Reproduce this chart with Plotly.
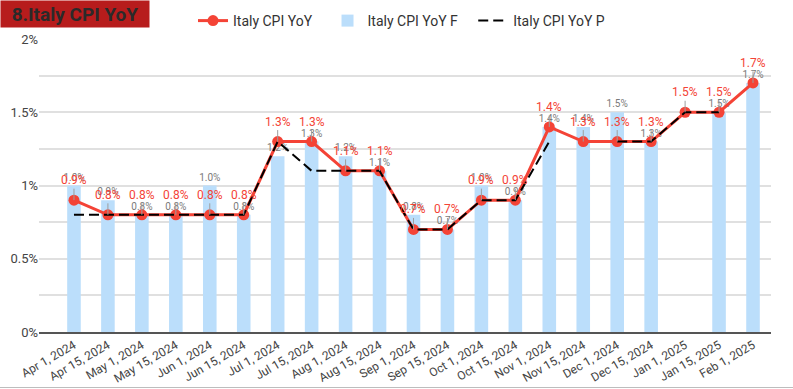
import plotly.graph_objects as go

dates = ["Apr 1, 2024", "Apr 15, 2024", "May 1, 2024", "May 15, 2024", "Jun 1, 2024",
         "Jun 15, 2024", "Jul 1, 2024", "Jul 15, 2024", "Aug 1, 2024", "Aug 15, 2024",
         "Sep 1, 2024", "Sep 15, 2024", "Oct 1, 2024", "Oct 15, 2024", "Nov 1, 2024",
         "Nov 15, 2024", "Dec 1, 2024", "Dec 15, 2024", "Jan 1, 2025", "Jan 15, 2025",
         "Feb 1, 2025"]
cpi_yoy = [0.9, 0.8, 0.8, 0.8, 0.8, 0.8, 1.3, 1.3, 1.1, 1.1, 0.7, 0.7, 0.9, 0.9,
           1.4, 1.3, 1.3, 1.3, 1.5, 1.5, 1.7]
cpi_yoy_f = [1.0, 0.9, 0.8, 0.8, 1.0, 0.8, 1.2, 1.3, 1.2, 1.1, 0.8, 0.7, 1.0, 0.9,
             1.4, 1.4, 1.5, 1.3, None, 1.5, 1.7]
cpi_yoy_p = [0.8, 0.8, 0.8, 0.8, 0.8, 0.8, 1.3, 1.1, 1.1, 1.1, 0.7, 0.7, 0.9, 0.9,
             1.3, None, 1.3, 1.3, 1.5, 1.5, None]
y_ticks = [0, 0.5, 1, 1.5, 2]
y_tick_text = ["0%", "0.5%", "1%", "1.5%", "2%"]

RED = "#f44336"
BLUE = "#bbdefb"
FONT = "Roboto"
PAD = "\u00a0" * 3

fig = go.Figure()

fig.add_trace(go.Scatter(
    x=dates, y=cpi_yoy, name="Italy CPI YoY" + PAD, mode="lines+markers",
    line=dict(color=RED, width=3), marker=dict(color=RED, size=11),
    legendrank=1, cliponaxis=False,
))
fig.add_trace(go.Bar(
    x=dates, y=cpi_yoy_f, name="Italy CPI YoY F" + PAD, marker=dict(color=BLUE, line=dict(width=0)),
    texttemplate="%{y:.1f}%", textposition="outside", constraintext="none",
    textfont=dict(color="#7a7a7a", size=10, family=FONT), cliponaxis=False,
    legendrank=2,
))
fig.add_trace(go.Scatter(
    x=dates, y=cpi_yoy_p, name="Italy CPI YoY P", mode="lines",
    line=dict(color="#000000", width=2, dash="10px,5px"),
    connectgaps=False, legendrank=3,
))

annotations = []
for d, v in zip(dates, cpi_yoy):
    annotations.append(dict(
        x=d, y=v, xref="x", yref="y", text=f"{v:.1f}%", showarrow=True,
        arrowhead=0, arrowwidth=1, arrowcolor="#9e9e9e", ax=0, ay=-20,
        font=dict(color=RED, size=12, family=FONT), standoff=0,
    ))

plot_w = 793 - 39 - 22
plot_h = 389 - 39 - 57
annotations.append(dict(
    xref="paper", yref="paper", x=-39 / plot_w, y=1 + 39 / plot_h,
    xanchor="left", yanchor="top", showarrow=False,
    text="<b>8.Italy CPI YoY</b>", font=dict(color="#2a2a2a", size=19, family=FONT),
    bgcolor="#b71c1c", width=148, height=26, borderpad=0, align="center",
))

fig.update_layout(
    width=793, height=389,
    margin=dict(l=39, r=22, t=39, b=57, autoexpand=False),
    paper_bgcolor="white", plot_bgcolor="white",
    font=dict(family=FONT, color="#444444", size=12),
    bargap=0.6,
    showlegend=True,
    legend=dict(orientation="h", x=(193 - 39) / plot_w, xanchor="left",
                yref="container", y=1 - 21 / 389, yanchor="middle",
                font=dict(size=14, color="#333333", family=FONT),
                bgcolor="rgba(0,0,0,0)"),
    annotations=annotations,
    shapes=[dict(type="line", xref="paper", yref="paper",
                 x0=-39 / plot_w, x1=(793 - 39) / plot_w,
                 y0=-(387.5 - 332) / plot_h, y1=-(387.5 - 332) / plot_h,
                 line=dict(color="#bdbdbd", width=1))],
)
fig.update_xaxes(
    type="category", range=[-1.03, 20.53], tickangle=-30, automargin=False,
    showgrid=False, showline=True, linecolor="#555555", linewidth=1.5,
    ticks="", tickfont=dict(size=12, color="#444444", family=FONT),
)
fig.update_yaxes(
    range=[0, 2], tickvals=y_ticks, ticktext=y_tick_text, automargin=False,
    showgrid=True, gridcolor="#e0e0e0", gridwidth=1.5, zeroline=False,
    minor=dict(tickvals=[0.25, 0.75, 1.25, 1.75], showgrid=True, gridcolor="#e0e0e0", gridwidth=1.5),
    tickfont=dict(size=13, color="#444444", family=FONT), ticks="",
)

fig.write_html("out.html", config={"displayModeBar": False},
               post_script="document.body.style.margin='0';")
